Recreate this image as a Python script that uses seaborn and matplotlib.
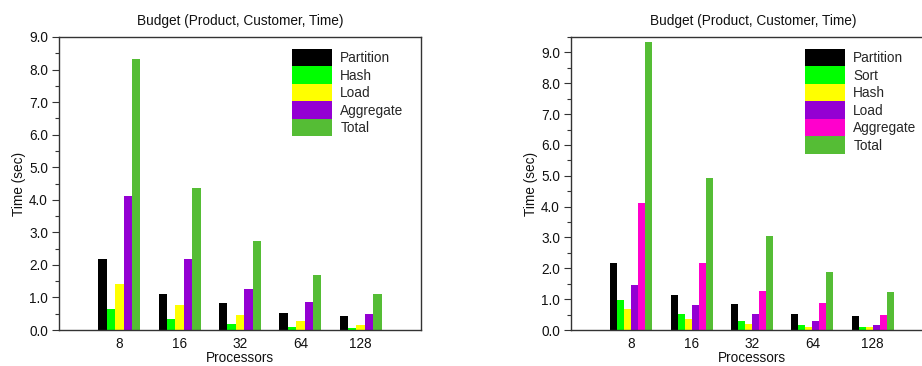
import matplotlib
matplotlib.use("Agg")
import matplotlib.pyplot as plt
from matplotlib.patches import Patch
from matplotlib.ticker import MultipleLocator, FormatStrFormatter
import pandas as pd
import seaborn as sns

processors = ["8", "16", "32", "64", "128"]

# Left panel: hash-based pipeline
left_phases = ["Partition", "Hash", "Load", "Aggregate", "Total"]
left_partition = [2.17, 1.11, 0.84, 0.53, 0.44]
left_hash = [0.65, 0.34, 0.18, 0.09, 0.07]
left_load = [1.41, 0.77, 0.46, 0.27, 0.15]
left_aggregate = [4.11, 2.18, 1.25, 0.85, 0.48]
left_total = [8.33, 4.37, 2.72, 1.70, 1.12]

# Right panel: sort + hash pipeline
right_phases = ["Partition", "Sort", "Hash", "Load", "Aggregate", "Total"]
right_partition = [2.16, 1.12, 0.84, 0.53, 0.44]
right_sort = [0.97, 0.53, 0.29, 0.16, 0.11]
right_hash = [0.67, 0.35, 0.21, 0.11, 0.09]
right_load = [1.45, 0.81, 0.51, 0.28, 0.17]
right_aggregate = [4.12, 2.17, 1.25, 0.86, 0.50]
right_total = [9.33, 4.93, 3.05, 1.88, 1.23]

left_palette = ["#000000", "#00ff00", "#ffff00", "#9400d3", "#55bd35"]
right_palette = ["#000000", "#00ff00", "#ffff00", "#9400d3", "#ff00cc", "#55bd35"]


def long_table(phases, series):
    rows = []
    for phase, vals in zip(phases, series):
        for p, v in zip(processors, vals):
            rows.append({"Processors": p, "Phase": phase, "Time": v})
    return pd.DataFrame(rows)


left_df = long_table(left_phases, [left_partition, left_hash, left_load,
                                   left_aggregate, left_total])
right_df = long_table(right_phases, [right_partition, right_sort, right_hash,
                                     right_load, right_aggregate, right_total])

sns.set_theme(style="white")
plt.rcParams["font.family"] = ["Liberation Sans", "DejaVu Sans"]
FS = 9.8
TITLE = "Budget (Product, Customer, Time)"

fig = plt.figure(figsize=(9.22, 3.66), dpi=100)
ax_l = fig.add_axes([59 / 922, 36 / 366, 362 / 922, 293 / 366])
ax_r = fig.add_axes([571 / 922, 36 / 366, 362 / 922, 293 / 366])


def draw(ax, df, phases, palette, ymax):
    sns.barplot(data=df, x="Processors", y="Time", hue="Phase",
                order=processors, hue_order=phases, palette=palette,
                width=0.7, gap=0, saturation=1, legend=False,
                edgecolor="none", linewidth=0, ax=ax)
    ax.set_xlim(-1, 5)
    ax.set_ylim(0, ymax)
    ax.yaxis.set_major_locator(MultipleLocator(1.0))
    ax.yaxis.set_minor_locator(MultipleLocator(0.5))
    ax.yaxis.set_major_formatter(FormatStrFormatter("%.1f"))
    ax.tick_params(axis="y", which="major", direction="out", length=5,
                   width=0.8, color="#333333", labelsize=FS, pad=3,
                   left=True, labelcolor="#111111")
    ax.tick_params(axis="y", which="minor", direction="out", length=3,
                   width=0.8, color="#333333", left=True)
    ax.tick_params(axis="x", length=0, labelsize=FS, pad=5,
                   labelcolor="#111111")
    for sp in ax.spines.values():
        sp.set_color("#333333")
        sp.set_linewidth(1.0)
        sp.set_visible(True)
    ax.set_xlabel("Processors", fontsize=FS, labelpad=0, color="#111111")
    ax.set_ylabel("Time (sec)", fontsize=FS, labelpad=2, color="#111111")
    handles = [Patch(facecolor=c, edgecolor="none") for c in palette]
    ax.legend(handles, phases, loc="upper left", frameon=False,
              fontsize=FS, labelspacing=0.0, handleheight=1.6,
              handlelength=2.95, handletextpad=0.6, borderpad=0,
              borderaxespad=0)


draw(ax_l, left_df, left_phases, left_palette, 9.0)
draw(ax_r, right_df, right_phases, right_palette, 9.5)

ax_l.set_title(TITLE, fontsize=FS, pad=9, color="#111111")
ax_r.set_title(TITLE, fontsize=FS, pad=9, color="#111111",
               x=(753 - 571) / 362)

# legends sit in the upper right of each plot area
ax_l.get_legend().set_bbox_to_anchor((292 / 922, (366 - 49) / 366),
                                     transform=fig.transFigure)
ax_r.get_legend().set_bbox_to_anchor((805 / 922, (366 - 49) / 366),
                                     transform=fig.transFigure)

fig.savefig("out.png", dpi=100)
